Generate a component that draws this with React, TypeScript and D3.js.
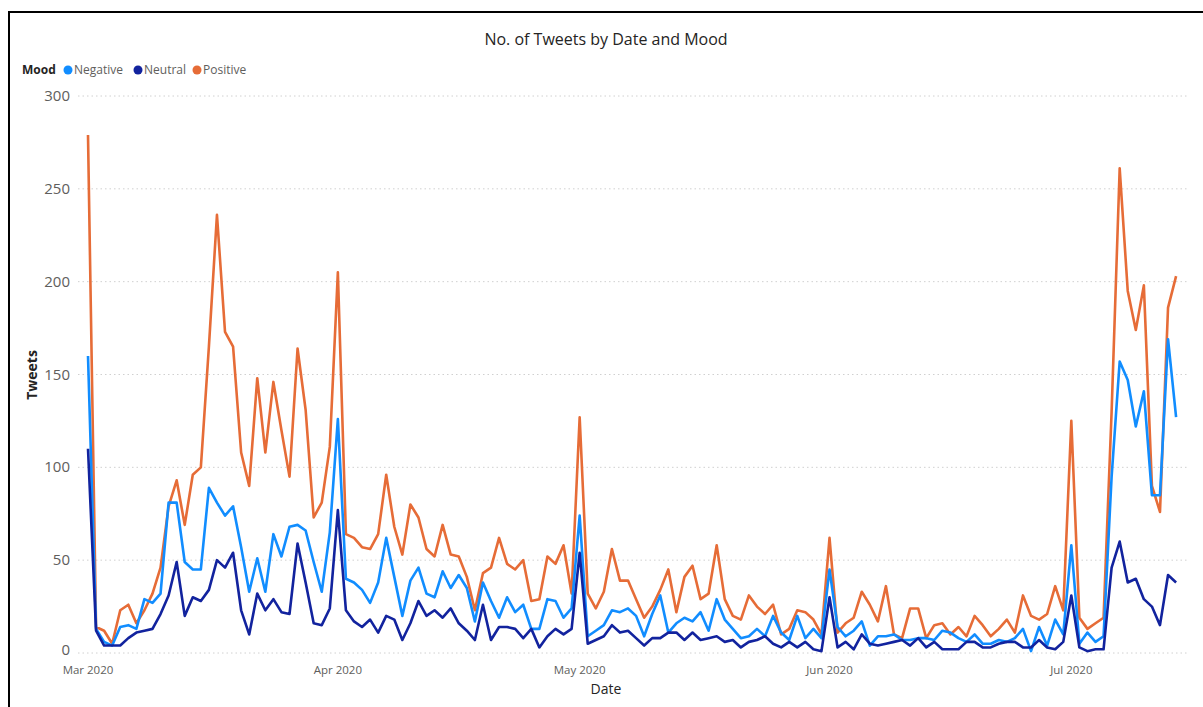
import React from "react";
import * as d3 from "d3";

const START = Date.UTC(2020, 2, 1);
const positive = [279,14,12,5,23,26,16,23,32,46,79,93,69,96,100,165,236,173,165,108,90,148,108,146,120,95,164,131,73,81,111,205,64,62,57,56,64,96,68,53,80,73,56,52,69,53,52,41,23,43,46,62,48,45,50,28,29,52,48,58,32,127,32,24,33,56,39,39,29,19,25,34,45,22,41,47,29,32,58,29,20,18,31,25,21,26,10,13,23,22,18,10,62,11,16,19,33,26,17,36,10,8,24,24,8,15,16,10,14,9,20,15,9,13,18,11,31,20,18,21,36,23,125,19,13,16,19,130,261,195,174,198,90,76,186,203];
const negative = [160,13,6,4,14,15,13,29,27,32,81,81,49,45,45,89,81,74,79,57,33,51,33,64,52,68,69,66,49,33,65,126,40,38,34,27,38,62,41,20,39,46,32,30,44,35,42,35,17,38,28,19,30,22,26,13,13,29,28,19,24,74,9,12,15,23,22,24,20,9,21,31,11,16,19,17,22,12,29,18,13,8,9,13,9,20,11,7,20,8,13,8,45,14,9,12,17,4,9,9,10,7,7,8,8,7,12,11,8,6,10,5,5,7,6,8,13,1,14,4,18,10,58,5,11,6,9,95,157,147,122,141,85,85,169,127];
const neutral = [110,12,4,4,4,8,11,12,13,21,31,49,20,30,28,34,50,46,54,23,10,32,23,29,22,21,59,38,16,15,24,77,23,17,14,18,11,20,18,7,16,28,20,23,19,24,16,12,7,26,7,14,14,13,8,13,3,9,13,10,13,54,5,7,9,15,11,12,8,4,8,8,11,11,7,11,7,8,9,6,7,3,6,7,9,5,3,6,3,6,2,1,30,3,6,2,10,5,4,5,6,7,4,8,3,6,2,2,2,6,6,3,3,5,6,6,3,3,7,3,2,6,31,3,1,2,2,46,60,38,40,29,25,15,42,38];

const seriesNames = ["Negative", "Neutral", "Positive"];
const seriesColors = ["#118DFF", "#12239E", "#E66C37"];
const yTicks = [0, 50, 100, 150, 200, 250, 300];
const xTickDates = [Date.UTC(2020, 2, 1), Date.UTC(2020, 3, 1), Date.UTC(2020, 4, 1), Date.UTC(2020, 5, 1), Date.UTC(2020, 6, 1)];
const xTickLabels = ["Mar 2020", "Apr 2020", "May 2020", "Jun 2020", "Jul 2020"];

const DAY = 86400000;
const FONT = "'Segoe UI', 'Open Sans', 'Noto Sans', sans-serif";
const legendX = [68, 138, 197];

export default function App() {
  const n = positive.length;
  const dates = d3.range(n).map((i) => new Date(START + i * DAY));
  const x = d3.scaleUtc().domain([dates[0], dates[n - 1]]).range([88, 88 + (n - 1) * 8.06]);
  const y = d3.scaleLinear().domain([0, 300]).range([653, 96]);
  const line = d3
    .line<number>()
    .x((_, i) => x(dates[i]))
    .y((v) => y(v))
    .curve(d3.curveLinear);
  const data = [negative, neutral, positive];
  const drawOrder = [2, 0, 1];

  return (
    <div style={{ position: "absolute", left: 0, top: 0 }}>
      <svg width={1203} height={707} style={{ display: "block", background: "#fff" }} fontFamily={FONT}>
        <rect x={9} y={12} width={1210} height={720} fill="#fff" stroke="#000" strokeWidth={2} />
        <text x={606} y={45} textAnchor="middle" fontSize={16} fill="#252423">
          No. of Tweets by Date and Mood
        </text>
        <text x={22} y={74} fontSize={12} fontWeight="bold" fill="#252423">
          Mood
        </text>
        {seriesNames.map((name, i) => (
          <g key={name}>
            <circle cx={legendX[i]} cy={70} r={4.5} fill={seriesColors[i]} />
            <text x={legendX[i] + 6} y={74} fontSize={12} fill="#605E5C">
              {name}
            </text>
          </g>
        ))}
        {yTicks.map((t) => (
          <g key={t}>
            <line x1={78} x2={1188} y1={y(t)} y2={y(t)} stroke="#D0D0D0" strokeDasharray="1.5 3" strokeWidth={1} />
            <text x={70} y={y(t) + (t === 0 ? 2 : 5)} textAnchor="end" fontSize={15} fill="#605E5C">
              {t}
            </text>
          </g>
        ))}
        {xTickDates.map((d, i) => (
          <text key={d} x={x(new Date(d))} y={674} textAnchor="middle" fontSize={11.5} fill="#605E5C">
            {xTickLabels[i]}
          </text>
        ))}
        <text x={606} y={694} textAnchor="middle" fontSize={14} fill="#252423">
          Date
        </text>
        <text transform="translate(37,375) rotate(-90)" textAnchor="middle" fontSize={14} fontWeight="bold" fill="#252423">
          Tweets
        </text>
        {drawOrder.map((k) => (
          <path key={k} d={line(data[k]) || ""} fill="none" stroke={seriesColors[k]} strokeWidth={2.6} strokeLinejoin="round" />
        ))}
      </svg>
    </div>
  );
}
